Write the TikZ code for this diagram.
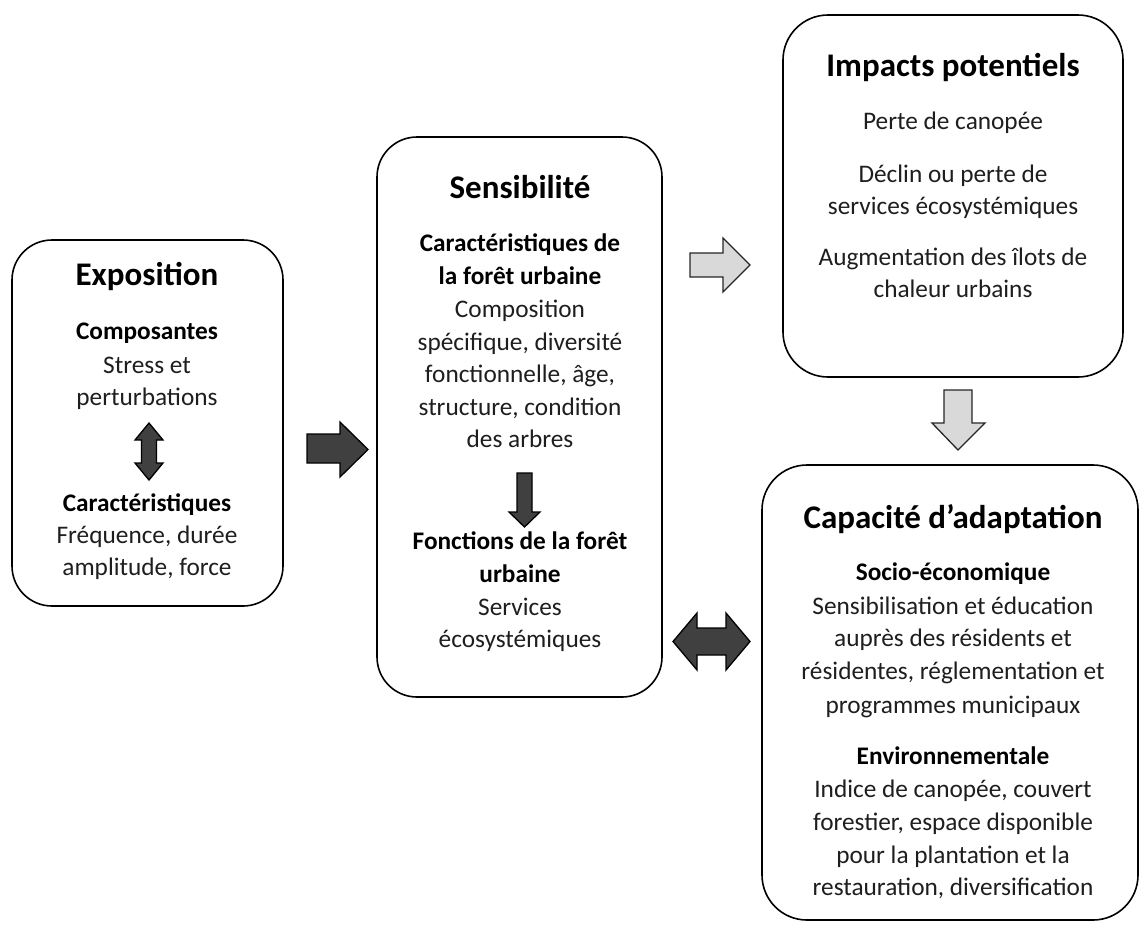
\documentclass[tikz,border=0pt]{standalone}
\usepackage{fontspec}
\setmainfont{Carlito}
\definecolor{txt}{HTML}{1E1E1E}
\definecolor{darkfill}{HTML}{404040}
\definecolor{lightfill}{HTML}{D9D9D9}
\begin{document}
\begin{tikzpicture}[x=1pt,y=-1pt,
  box/.style={draw=black, line width=1.6pt, fill=white, inner sep=0pt},
  ttl/.style={anchor=base, inner sep=0pt, text=black, font=\fontsize{33}{40}\selectfont\bfseries},
  sub/.style={anchor=base, inner sep=0pt, text=black, font=\fontsize{25.3}{30}\selectfont\bfseries},
  bod/.style={anchor=base, inner sep=0pt, text=txt, font=\fontsize{25.3}{30}\selectfont},
  darkarr/.style={draw=black, line width=1.3pt, fill=darkfill, line join=miter},
  lightarr/.style={draw=black!85, line width=1.3pt, fill=lightfill, line join=miter}]
\useasboundingbox (0,0) rectangle (1142,927);

% boxes
\node[box, rounded corners=40pt, minimum width=271, minimum height=366] (expo) at (147.5,423) {};
\node[box, rounded corners=40pt, minimum width=285, minimum height=560] (sens) at (519.5,417) {};
\node[box, rounded corners=45pt, minimum width=340, minimum height=362] (imp) at (953,196) {};
\node[box, rounded corners=45pt, minimum width=376, minimum height=455] (cap) at (950,692.5) {};

% Exposition
\node[ttl] (e0) at (147,285) {Exposition};
\node[sub] (e1) at (147,339) {Composantes};
\node[bod] (e2) at (147,373) {Stress et};
\node[bod] (e3) at (147,405) {perturbations};
\node[sub] (e4) at (147,511) {Caractéristiques};
\node[bod] (e5) at (147,543) {Fréquence, durée};
\node[bod] (e6) at (147,575) {amplitude, force};

% Sensibilite
\node[ttl] (s0) at (520,198) {Sensibilité};
\node[sub] (s1) at (520,251) {Caractéristiques de};
\node[sub] (s2) at (520,284) {la forêt urbaine};
\node[bod] (s3) at (520,317) {Composition};
\node[bod] (s4) at (520,350) {spécifique, diversité};
\node[bod] (s5) at (520,382) {fonctionnelle, âge,};
\node[bod] (s6) at (520,415) {structure, condition};
\node[bod] (s7) at (520,447) {des arbres};
\node[sub] (s8) at (520,549) {Fonctions de la forêt};
\node[sub] (s9) at (520,582) {urbaine};
\node[bod] (s10) at (520,615) {Services};
\node[bod] (s11) at (520,647) {écosystémiques};

% Impacts
\node[ttl] (i0) at (953,76) {Impacts potentiels};
\node[bod] (i1) at (953,129) {Perte de canopée};
\node[bod] (i2) at (953,182) {Déclin ou perte de};
\node[bod] (i3) at (953,214) {services écosystémiques};
\node[bod] (i4) at (953,265) {Augmentation des îlots de};
\node[bod] (i5) at (953,297) {chaleur urbains};

% Capacite
\node[ttl] (c0) at (953,528) {Capacité d’adaptation};
\node[sub] (c1) at (953,580) {Socio-économique};
\node[bod] (c2) at (953,614) {Sensibilisation et éducation};
\node[bod] (c3) at (953,646) {auprès des résidents et};
\node[bod] (c4) at (953,679) {résidentes, réglementation et};
\node[bod] (c5) at (953,713) {programmes municipaux};
\node[sub] (c6) at (953,764) {Environnementale};
\node[bod] (c7) at (953,797) {Indice de canopée, couvert};
\node[bod] (c8) at (953,830) {forestier, espace disponible};
\node[bod] (c9) at (953,863) {pour la plantation et la};
\node[bod] (c10) at (953,895) {restauration, diversification};

% block arrows
\draw[darkarr] (149,423) -- (163,440) -- (156.5,440) -- (156.5,463) -- (163,463) -- (149,480) -- (135,463) -- (141.5,463) -- (141.5,440) -- (135,440) -- cycle;
\draw[darkarr] (307,434) -- (340,434) -- (340,422) -- (368,449.5) -- (340,477) -- (340,463) -- (307,463) -- cycle;
\draw[lightarr] (690,253) -- (723,253) -- (723,238) -- (750,265) -- (723,292) -- (723,277) -- (690,277) -- cycle;
\draw[lightarr] (944,390) -- (972,390) -- (972,423) -- (985,423) -- (958,450) -- (932,423) -- (944,423) -- cycle;
\draw[darkarr] (517,473) -- (532,473) -- (532,512) -- (540,512) -- (524.5,527) -- (509,512) -- (517,512) -- cycle;
\draw[darkarr] (673,641.5) -- (697,613) -- (697,628) -- (726,628) -- (726,613) -- (750,641.5) -- (726,670) -- (726,655) -- (697,655) -- (697,670) -- cycle;
\end{tikzpicture}
\end{document}
